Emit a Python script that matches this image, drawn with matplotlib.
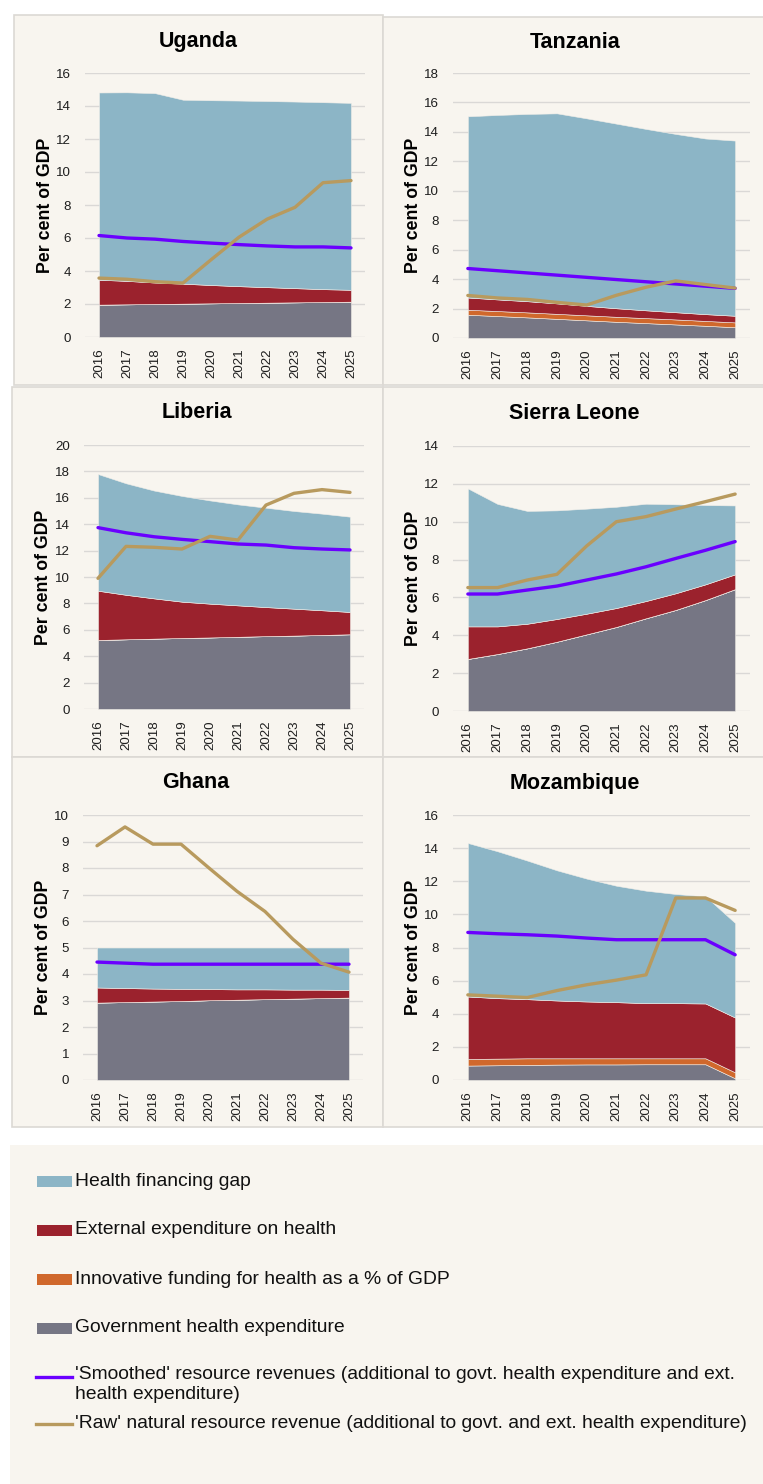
import matplotlib
matplotlib.use("Agg")
import matplotlib.pyplot as plt
from matplotlib.patches import Rectangle
import numpy as np

plt.rcParams["font.family"] = ["Liberation Sans", "DejaVu Sans"]

# ---------------------------------------------------------------- data
years = ["2016", "2017", "2018", "2019", "2020", "2021", "2022", "2023", "2024", "2025"]

uganda_gov = [1.96, 1.98, 2.00, 2.02, 2.04, 2.06, 2.08, 2.10, 2.12, 2.14]
uganda_innov = [0, 0, 0, 0, 0, 0, 0, 0, 0, 0]
uganda_ext = [1.51, 1.42, 1.30, 1.21, 1.11, 1.02, 0.94, 0.86, 0.78, 0.72]
uganda_gap = [11.35, 11.43, 11.48, 11.15, 11.20, 11.25, 11.28, 11.31, 11.33, 11.33]
uganda_smoothed = [6.15, 6.00, 5.93, 5.79, 5.69, 5.60, 5.52, 5.46, 5.46, 5.40]
uganda_raw = [3.57, 3.50, 3.35, 3.27, 4.68, 6.05, 7.14, 7.86, 9.35, 9.48]

tanzania_gov = [1.58, 1.49, 1.40, 1.30, 1.20, 1.10, 1.01, 0.92, 0.83, 0.73]
tanzania_innov = [0.34, 0.34, 0.34, 0.34, 0.34, 0.34, 0.34, 0.34, 0.33, 0.33]
tanzania_ext = [0.83, 0.79, 0.76, 0.71, 0.64, 0.58, 0.53, 0.49, 0.46, 0.45]
tanzania_gap = [12.31, 12.53, 12.72, 12.91, 12.74, 12.54, 12.32, 12.11, 11.93, 11.90]
tanzania_smoothed = [4.72, 4.57, 4.42, 4.27, 4.12, 3.97, 3.82, 3.67, 3.52, 3.37]
tanzania_raw = [2.89, 2.72, 2.62, 2.42, 2.24, 2.90, 3.45, 3.88, 3.63, 3.39]

liberia_gov = [5.23, 5.28, 5.33, 5.38, 5.42, 5.47, 5.52, 5.56, 5.61, 5.66]
liberia_innov = [0, 0, 0, 0, 0, 0, 0, 0, 0, 0]
liberia_ext = [3.73, 3.37, 3.05, 2.75, 2.56, 2.38, 2.20, 2.04, 1.87, 1.69]
liberia_gap = [8.84, 8.45, 8.17, 8.01, 7.82, 7.65, 7.53, 7.40, 7.32, 7.22]
liberia_smoothed = [13.74, 13.35, 13.05, 12.85, 12.68, 12.50, 12.42, 12.22, 12.12, 12.05]
liberia_raw = [9.90, 12.32, 12.25, 12.12, 13.08, 12.80, 15.45, 16.34, 16.62, 16.41]

sierra_gov = [2.75, 3.01, 3.31, 3.66, 4.05, 4.44, 4.90, 5.34, 5.86, 6.44]
sierra_innov = [0, 0, 0, 0, 0, 0, 0, 0, 0, 0]
sierra_ext = [1.72, 1.46, 1.30, 1.20, 1.09, 1.00, 0.91, 0.88, 0.83, 0.78]
sierra_gap = [7.29, 6.47, 5.96, 5.74, 5.55, 5.35, 5.14, 4.70, 4.19, 3.64]
sierra_smoothed = [6.18, 6.18, 6.39, 6.60, 6.92, 7.24, 7.62, 8.06, 8.49, 8.95]
sierra_raw = [6.52, 6.52, 6.92, 7.22, 8.72, 10.00, 10.27, 10.67, 11.06, 11.46]

ghana_gov = [2.92, 2.94, 2.96, 2.98, 3.01, 3.03, 3.05, 3.07, 3.09, 3.11]
ghana_innov = [0, 0, 0, 0, 0, 0, 0, 0, 0, 0]
ghana_ext = [0.57, 0.53, 0.49, 0.46, 0.42, 0.39, 0.37, 0.34, 0.32, 0.29]
ghana_gap = [1.51, 1.53, 1.55, 1.56, 1.57, 1.58, 1.58, 1.59, 1.59, 1.60]
ghana_smoothed = [4.45, 4.41, 4.37, 4.37, 4.37, 4.37, 4.37, 4.37, 4.37, 4.37]
ghana_raw = [8.84, 9.55, 8.90, 8.90, 8.00, 7.12, 6.36, 5.31, 4.41, 4.07]

mozambique_gov = [0.87, 0.89, 0.91, 0.93, 0.94, 0.94, 0.95, 0.95, 0.95, 0.10]
mozambique_innov = [0.40, 0.40, 0.40, 0.38, 0.37, 0.37, 0.36, 0.36, 0.36, 0.36]
mozambique_ext = [3.77, 3.65, 3.57, 3.49, 3.43, 3.39, 3.33, 3.33, 3.31, 3.31]
mozambique_gap = [9.27, 8.87, 8.37, 7.86, 7.42, 7.03, 6.79, 6.59, 6.47, 5.71]
mozambique_smoothed = [8.91, 8.83, 8.77, 8.69, 8.57, 8.47, 8.47, 8.47, 8.47, 7.56]
mozambique_raw = [5.14, 5.06, 4.98, 5.40, 5.75, 6.03, 6.35, 10.99, 10.99, 10.24]

legend_labels = [
    "Health financing gap",
    "External expenditure on health",
    "Innovative funding for health as a % of GDP",
    "Government health expenditure",
    "'Smoothed' resource revenues (additional to govt. health expenditure and ext.\nhealth expenditure)",
    "'Raw' natural resource revenue (additional to govt. and ext. health expenditure)",
]

# ---------------------------------------------------------------- style
C_GAP = "#8cb5c6"
C_EXT = "#9b222d"
C_INNOV = "#d0682c"
C_GOV = "#767684"
C_SMOOTH = "#6a00ff"
C_RAW = "#b89a5e"
PANEL_BG = "#f8f5ef"
PANEL_EDGE = "#dcd9d4"
GRID = "#dad8d6"

W, H = 763, 1484
fig = plt.figure(figsize=(W / 100, H / 100), dpi=100, facecolor="white")


def frac_rect(x0, y0, x1, y1):
    """Pixel box (top-left origin) -> figure-fraction rect."""
    return [x0 / W, 1 - y1 / H, (x1 - x0) / W, (y1 - y0) / H]


def panel_background(x0, y0, x1, y1, edge=True):
    fig.patches.append(Rectangle((x0 / W, 1 - y1 / H), (x1 - x0) / W, (y1 - y0) / H,
                                 transform=fig.transFigure, facecolor=PANEL_BG,
                                 edgecolor=PANEL_EDGE if edge else "none",
                                 linewidth=1.2, zorder=-10))


panels = [
    # name, gov, innov, ext, gap, smoothed, raw, ymax, step, panel box, axes box, title xy, ylabel x
    ("Uganda", uganda_gov, uganda_innov, uganda_ext, uganda_gap, uganda_smoothed, uganda_raw,
     16, 2, (14, 15, 383, 385), (85, 73, 365, 337), (198, 42), 45),
    ("Tanzania", tanzania_gov, tanzania_innov, tanzania_ext, tanzania_gap, tanzania_smoothed, tanzania_raw,
     18, 2, (383, 17, 770, 385), (453, 73, 750, 338), (575, 42), 413),
    ("Liberia", liberia_gov, liberia_innov, liberia_ext, liberia_gap, liberia_smoothed, liberia_raw,
     20, 2, (12, 387, 383, 757), (84, 445, 364, 709), (197, 412), 43),
    ("Sierra Leone", sierra_gov, sierra_innov, sierra_ext, sierra_gap, sierra_smoothed, sierra_raw,
     14, 2, (383, 387, 770, 757), (453, 446, 750, 711), (574, 414), 413),
    ("Ghana", ghana_gov, ghana_innov, ghana_ext, ghana_gap, ghana_smoothed, ghana_raw,
     10, 1, (12, 757, 383, 1127), (83, 815, 363, 1080), (196, 783), 43),
    ("Mozambique", mozambique_gov, mozambique_innov, mozambique_ext, mozambique_gap,
     mozambique_smoothed, mozambique_raw,
     16, 2, (383, 757, 770, 1127), (453, 815, 750, 1080), (575, 784), 413),
]

x = np.arange(len(years))

for (name, gov, innov, ext, gap, smooth, raw, ymax, step, pbox, abox, tpos, ylx) in panels:
    panel_background(*pbox)
    ax = fig.add_axes(frac_rect(*abox))
    ax.set_facecolor("none")
    ax.stackplot(x, gov, innov, ext, gap, colors=[C_GOV, C_INNOV, C_EXT, C_GAP],
                 edgecolor="#f2efe9", linewidth=0.4, zorder=2)
    ax.plot(x, smooth, color=C_SMOOTH, lw=2.4, solid_capstyle="round", zorder=4)
    ax.plot(x, raw, color=C_RAW, lw=2.4, solid_capstyle="round", zorder=5)
    ax.set_xlim(-0.5, len(years) - 0.5)
    ax.set_ylim(0, ymax)
    ax.set_yticks(np.arange(0, ymax + 0.01, step))
    ax.set_xticks(x)
    ax.set_xticklabels(years, rotation=90)
    ax.grid(axis="y", color=GRID, lw=1.0, zorder=0)
    ax.set_axisbelow(True)
    for s in ax.spines.values():
        s.set_visible(False)
    ax.tick_params(axis="both", length=0, labelsize=9.6, colors="#1e1e1e")
    ax.tick_params(axis="y", pad=10)
    ax.tick_params(axis="x", pad=8)
    fig.text(ylx / W, 1 - ((abox[1] + abox[3]) / 2) / H, "Per cent of GDP",
             rotation=90, ha="center", va="center",
             fontsize=12.8, fontweight="bold", color="black")
    fig.text(tpos[0] / W, 1 - tpos[1] / H, name, ha="center", va="center",
             fontsize=15.5, fontweight="bold", color="black")

# ---------------------------------------------------------------- legend
panel_background(10, 1145, 770, 1490, edge=False)
lax = fig.add_axes([0, 0, 1, 1])
lax.set_xlim(0, W)
lax.set_ylim(H, 0)
lax.axis("off")
lax.set_facecolor("none")

LEG_FS = 13.9
swatch_y = [1181, 1230, 1279, 1328, 1377, 1424]
swatch_colors = [C_GAP, C_EXT, C_INNOV, C_GOV]
for yc, col, lab in zip(swatch_y[:4], swatch_colors, legend_labels[:4]):
    lax.add_patch(Rectangle((37, yc - 5.5), 35, 11, facecolor=col, edgecolor="none"))
    lax.text(75, yc, lab, fontsize=LEG_FS, va="center", ha="left", color="#111111")

lax.plot([36, 72], [swatch_y[4], swatch_y[4]], color=C_SMOOTH, lw=2.4)
lax.text(75, swatch_y[4] - 11, legend_labels[4], fontsize=LEG_FS, va="top", ha="left",
         color="#111111", linespacing=1.22)
lax.plot([36, 72], [swatch_y[5], swatch_y[5]], color=C_RAW, lw=2.4)
lax.text(75, swatch_y[5], legend_labels[5], fontsize=LEG_FS, va="center", ha="left", color="#111111")

fig.savefig("out.png", dpi=100, facecolor="white")
